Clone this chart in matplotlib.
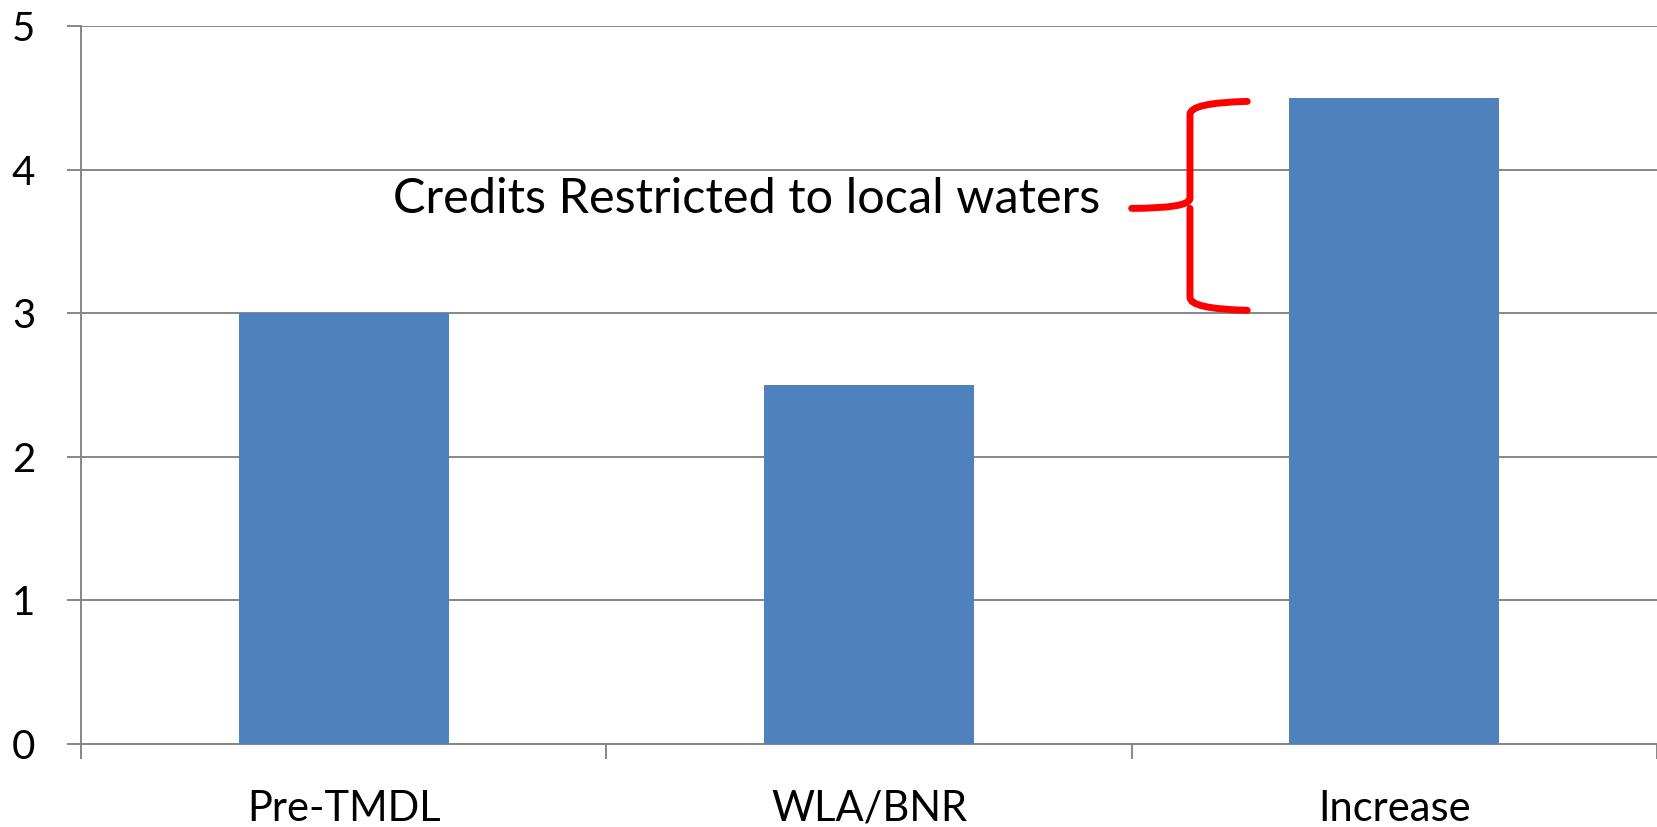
import matplotlib
matplotlib.use("Agg")
import matplotlib.pyplot as plt
from matplotlib.path import Path
from matplotlib.patches import PathPatch, Rectangle

categories = ["Pre-TMDL", "WLA/BNR", "Increase"]
values = [3.0, 2.5, 4.5]
y_ticks = [0, 1, 2, 3, 4, 5]
note = "Credits Restricted to local waters"

plt.rcParams['font.family'] = ['Lato', 'DejaVu Sans']

fig = plt.figure(figsize=(16.58, 8.27), dpi=100)
ax = fig.add_axes([81 / 1658, 83 / 827, 1576 / 1658, 718 / 827])

grid_color = "#868686"
ax.bar(range(len(categories)), values, width=0.4, color="#4F81BD", zorder=3)

ax.set_xlim(-0.5, len(categories) - 0.5)
ax.set_ylim(0, 5)
ax.set_yticks(y_ticks)
ax.set_xticks(range(len(categories)))
ax.set_xticklabels(categories)
ax.set_xticks([-0.5, 0.5, 1.5, 2.5], minor=True)

ax.yaxis.grid(True, color=grid_color, linewidth=1.4, zorder=0)
ax.tick_params(axis='y', length=10, width=1.4, color=grid_color, pad=23, labelsize=29)
ax.tick_params(axis='x', which='major', length=0, pad=33, labelsize=30)
ax.tick_params(axis='x', which='minor', length=11, width=1.4, color=grid_color)
for side in ["top", "right"]:
    ax.spines[side].set_visible(False)
for side in ["left", "bottom"]:
    ax.spines[side].set_color(grid_color)
    ax.spines[side].set_linewidth(1.4)

# brace around the extra part of the Increase bar
x_tip, x_v, x_end = 1.50, 1.611, 1.72
y_top, y_mid, y_bot = 4.475, 3.73, 3.02
ax.add_patch(Rectangle((x_v, y_bot), x_end - x_v, y_top - y_bot,
                       facecolor="white", edgecolor="none", zorder=1))
verts = [
    (x_end, y_top), (x_v, y_top - 0.01), (x_v, y_top - 0.09),
    (x_v, y_mid + 0.07),
    (x_v, y_mid), (x_tip, y_mid),
    (x_v, y_mid), (x_v, y_mid - 0.07),
    (x_v, y_bot + 0.09),
    (x_v, y_bot + 0.01), (x_end, y_bot),
]
codes = [Path.MOVETO, Path.CURVE3, Path.CURVE3,
         Path.LINETO,
         Path.CURVE3, Path.CURVE3,
         Path.MOVETO, Path.CURVE3,
         Path.LINETO,
         Path.CURVE3, Path.CURVE3]
brace = PathPatch(Path(verts, codes), facecolor="none", edgecolor="red",
                  linewidth=5, capstyle="round", joinstyle="round", zorder=4)
ax.add_patch(brace)

ax.text(1.44, 3.70, note, ha="right", va="baseline", fontsize=35, zorder=5)

fig.savefig("out.png", dpi=100)
